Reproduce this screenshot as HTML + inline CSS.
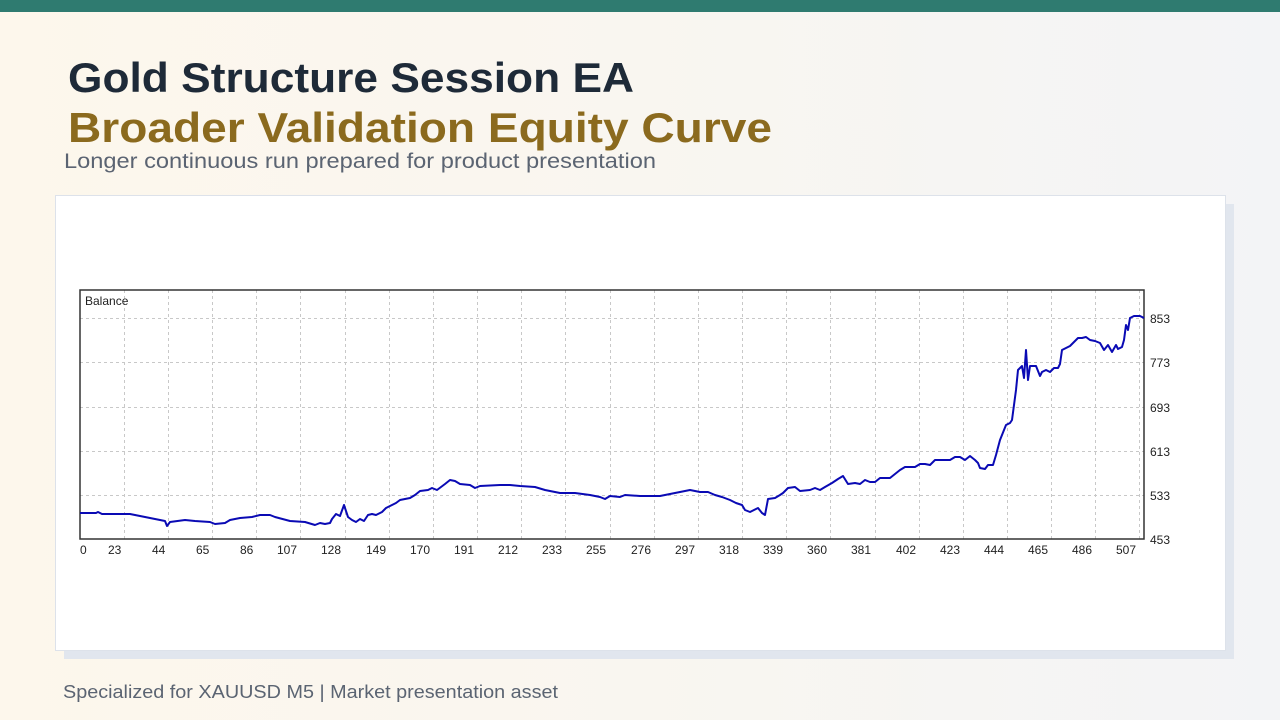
<!DOCTYPE html>
<html><head><meta charset="utf-8"><style>
html,body{margin:0;padding:0;width:1280px;height:720px;overflow:hidden}
body{background:linear-gradient(90deg,#fdf7ec 0%,#f9f6f0 50%,#f3f4f6 100%);font-family:"Liberation Sans",sans-serif;position:relative}
.bar{position:absolute;left:0;top:0;width:1280px;height:12px;background:#2f7b70}
</style></head><body>
<div class="bar"></div>
<svg width="1280" height="720" style="position:absolute;left:0;top:0">
<text x="68" y="92" font-family="Liberation Sans,sans-serif" font-weight="bold" font-size="42" fill="#1e2a38" textLength="566" lengthAdjust="spacingAndGlyphs">Gold Structure Session EA</text>
<text x="68" y="142" font-family="Liberation Sans,sans-serif" font-weight="bold" font-size="42" fill="#8b6a1e" textLength="704" lengthAdjust="spacingAndGlyphs">Broader Validation Equity Curve</text>
<text x="64" y="168" font-family="Liberation Sans,sans-serif" font-size="21" fill="#5b6472" textLength="592" lengthAdjust="spacingAndGlyphs">Longer continuous run prepared for product presentation</text>
<text x="63" y="698" font-family="Liberation Sans,sans-serif" font-size="18" fill="#5b6472" textLength="495" lengthAdjust="spacingAndGlyphs">Specialized for XAUUSD M5 | Market presentation asset</text>
<rect x="64" y="204" width="1170" height="455" fill="#e1e6ee"/>
<rect x="55.5" y="195.5" width="1170" height="455" fill="#fff" stroke="#dde2ea"/>
<g stroke="#c8c8c8" stroke-dasharray="3,3" stroke-width="1">
<line x1="80" x2="1144" y1="318.5" y2="318.5"/><line x1="80" x2="1144" y1="362.5" y2="362.5"/><line x1="80" x2="1144" y1="407.5" y2="407.5"/><line x1="80" x2="1144" y1="451.5" y2="451.5"/><line x1="80" x2="1144" y1="495.5" y2="495.5"/>
<line x1="124.5" x2="124.5" y1="290" y2="539"/><line x1="168.5" x2="168.5" y1="290" y2="539"/><line x1="212.5" x2="212.5" y1="290" y2="539"/><line x1="256.5" x2="256.5" y1="290" y2="539"/><line x1="300.5" x2="300.5" y1="290" y2="539"/><line x1="345.5" x2="345.5" y1="290" y2="539"/><line x1="389.5" x2="389.5" y1="290" y2="539"/><line x1="433.5" x2="433.5" y1="290" y2="539"/><line x1="477.5" x2="477.5" y1="290" y2="539"/><line x1="521.5" x2="521.5" y1="290" y2="539"/><line x1="565.5" x2="565.5" y1="290" y2="539"/><line x1="610.5" x2="610.5" y1="290" y2="539"/><line x1="654.5" x2="654.5" y1="290" y2="539"/><line x1="698.5" x2="698.5" y1="290" y2="539"/><line x1="742.5" x2="742.5" y1="290" y2="539"/><line x1="786.5" x2="786.5" y1="290" y2="539"/><line x1="830.5" x2="830.5" y1="290" y2="539"/><line x1="875.5" x2="875.5" y1="290" y2="539"/><line x1="919.5" x2="919.5" y1="290" y2="539"/><line x1="963.5" x2="963.5" y1="290" y2="539"/><line x1="1007.5" x2="1007.5" y1="290" y2="539"/><line x1="1051.5" x2="1051.5" y1="290" y2="539"/><line x1="1095.5" x2="1095.5" y1="290" y2="539"/><line x1="1139.5" x2="1139.5" y1="290" y2="539"/>
</g>
<rect x="80" y="290" width="1064" height="249" fill="none" stroke="#333" stroke-width="1.5"/>
<text x="85" y="305" font-size="12" font-family="Liberation Sans,sans-serif" fill="#222">Balance</text>
<polyline fill="none" stroke="#0a0ab4" stroke-width="2" stroke-linejoin="round" points="80,513 96,513 98,512 102,514 130,514 140,516 160,520 165,521 167,526 170,522 185,520 195,521 210,522 215,524 225,523 230,520 240,518 252,517 260,515 270,515 275,517 290,521 305,522 315,525 320,523 325,524 330,523 332,519 336,514 340,516 344,505 348,517 352,520 356,522 360,519 364,521 368,515 372,514 376,515 382,512 386,508 390,506 396,503 400,500 410,498 415,495 420,491 428,490 432,488 437,490 445,484 450,480 455,481 460,484 470,485 475,488 480,486 500,485 510,485 520,486 535,487 545,490 560,493 575,493 590,495 600,497 605,499 610,496 620,497 625,495 640,496 660,496 680,492 690,490 700,492 708,492 715,495 722,497 730,500 736,503 742,505 745,510 750,512 758,508 762,513 765,515 768,499 775,498 780,495 783,493 788,488 795,487 800,491 810,490 815,488 820,490 825,487 832,483 838,479 843,476 848,484 855,483 860,484 865,480 870,482 875,482 880,478 890,478 895,474 900,470 905,467 915,467 920,464 925,464 930,465 935,460 950,460 955,457 960,457 965,460 970,456 975,460 978,463 980,468 985,469 988,465 993,465 996,455 1000,440 1004,430 1006,425 1010,423 1012,420 1014,405 1016,390 1018,370 1022,366 1024,378 1026,350 1028,380 1030,366 1036,366 1040,376 1042,372 1046,370 1050,372 1054,368 1058,368 1060,364 1062,350 1066,348 1070,346 1074,342 1078,338 1082,338 1086,337 1090,340 1095,341 1100,343 1104,350 1108,345 1112,352 1116,345 1118,349 1122,347 1124,340 1126,325 1128,330 1130,318 1134,316 1140,316 1144,318"/>
<g font-size="12" font-family="Liberation Sans,sans-serif" fill="#222">
<text x="1150" y="323">853</text><text x="1150" y="367">773</text><text x="1150" y="412">693</text><text x="1150" y="456">613</text><text x="1150" y="500">533</text><text x="1150" y="544">453</text>
</g>
<g font-size="12" font-family="Liberation Sans,sans-serif" fill="#222">
<text x="80" y="554">0</text><text x="108" y="554">23</text><text x="152" y="554">44</text><text x="196" y="554">65</text><text x="240" y="554">86</text><text x="277" y="554">107</text><text x="321" y="554">128</text><text x="366" y="554">149</text><text x="410" y="554">170</text><text x="454" y="554">191</text><text x="498" y="554">212</text><text x="542" y="554">233</text><text x="586" y="554">255</text><text x="631" y="554">276</text><text x="675" y="554">297</text><text x="719" y="554">318</text><text x="763" y="554">339</text><text x="807" y="554">360</text><text x="851" y="554">381</text><text x="896" y="554">402</text><text x="940" y="554">423</text><text x="984" y="554">444</text><text x="1028" y="554">465</text><text x="1072" y="554">486</text><text x="1116" y="554">507</text>
</g>
</svg>
</body></html>
